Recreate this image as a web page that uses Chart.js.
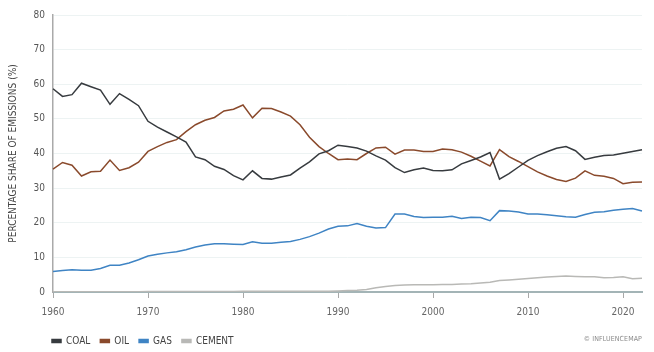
<!DOCTYPE html>
<html>
<head>
<meta charset="utf-8">
<script src="https://cdn.jsdelivr.net/npm/chart.js@4"></script>
<style>
  body { margin: 0; background: #fff; }
  #wrap { position: relative; width: 654px; height: 352px; }
  #credit {
    position: absolute; right: 12px; top: 335px;
    font: 7px "Liberation Sans Narrow", "DejaVu Sans Condensed", sans-serif;
    color: #888; letter-spacing: 0.1px;
  }
</style>
</head>
<body>
<div id="wrap">
  <canvas id="myChart"></canvas>
  <div id="credit">© INFLUENCEMAP</div>
</div>
<script>
const years = [
  1960, 1961, 1962, 1963, 1964, 1965, 1966, 1967, 1968, 1969,
  1970, 1971, 1972, 1973, 1974, 1975, 1976, 1977, 1978, 1979,
  1980, 1981, 1982, 1983, 1984, 1985, 1986, 1987, 1988, 1989,
  1990, 1991, 1992, 1993, 1994, 1995, 1996, 1997, 1998, 1999,
  2000, 2001, 2002, 2003, 2004, 2005, 2006, 2007, 2008, 2009,
  2010, 2011, 2012, 2013, 2014, 2015, 2016, 2017, 2018, 2019,
  2020, 2021, 2022
]
const coal = [
  58.7, 56.5, 57.0, 60.3, 59.3, 58.3, 54.2, 57.3, 55.6, 53.8,
  49.3, 47.6, 46.2, 44.8, 43.3, 39.0, 38.2, 36.3, 35.4, 33.6,
  32.4, 35.0, 32.8, 32.6, 33.2, 33.8, 35.8, 37.6, 39.9, 40.8,
  42.4, 42.0, 41.6, 40.7, 39.3, 38.1, 35.9, 34.5, 35.3, 35.8,
  35.1, 35.0, 35.3, 37.0, 38.0, 39.0, 40.3, 32.6, 34.2, 36.1,
  38.0, 39.4, 40.5, 41.5, 42.0, 40.8, 38.3, 38.9, 39.4, 39.6,
  40.1, 40.6, 41.1
]
const oil = [
  35.5, 37.4, 36.6, 33.5, 34.7, 34.9, 38.1, 35.1, 35.9, 37.5,
  40.6, 42.0, 43.2, 44.0, 46.3, 48.3, 49.6, 50.4, 52.3, 52.8,
  54.0, 50.3, 53.1, 53.0, 52.0, 50.8, 48.3, 44.7, 42.0, 40.0,
  38.2, 38.4, 38.2, 40.0, 41.6, 41.8, 39.8, 41.0, 41.0, 40.6,
  40.6, 41.3, 41.1, 40.4, 39.2, 37.8, 36.4, 41.1, 39.1, 37.7,
  36.2, 34.7, 33.5, 32.5, 31.9, 32.9, 35.0, 33.7, 33.4, 32.8,
  31.3, 31.7, 31.8
]
const gas = [
  5.9, 6.2, 6.4, 6.3, 6.3, 6.8, 7.7, 7.7, 8.4, 9.3,
  10.4, 10.9, 11.3, 11.6, 12.2, 13.0, 13.6, 13.9, 13.9, 13.8,
  13.7, 14.5, 14.1, 14.1, 14.4, 14.6, 15.2, 16.0, 17.0, 18.2,
  19.0, 19.1, 19.8, 19.0, 18.5, 18.6, 22.5, 22.5, 21.8, 21.5,
  21.6, 21.6, 21.9, 21.2, 21.6, 21.5, 20.6, 23.5, 23.4, 23.1,
  22.5, 22.5, 22.3, 22.0, 21.7, 21.6, 22.4, 23.0, 23.2, 23.6,
  23.9, 24.1, 23.4
]
const cement = [
  0.1, 0.1, 0.1, 0.1, 0.1, 0.1, 0.1, 0.1, 0.1, 0.1,
  0.15, 0.15, 0.15, 0.15, 0.15, 0.15, 0.15, 0.15, 0.15, 0.15,
  0.2, 0.2, 0.2, 0.2, 0.2, 0.2, 0.2, 0.2, 0.2, 0.2,
  0.3, 0.4, 0.5, 0.7, 1.2, 1.6, 1.9, 2.0, 2.1, 2.1,
  2.1, 2.2, 2.2, 2.3, 2.4, 2.6, 2.8, 3.3, 3.5, 3.7,
  3.9, 4.1, 4.3, 4.5, 4.6, 4.5, 4.4, 4.4, 4.1, 4.2,
  4.4, 3.8, 4.0
]
const yTicks = [0, 10, 20, 30, 40, 50, 60, 70, 80]

const FONT = '"Liberation Sans Narrow", "DejaVu Sans Condensed", sans-serif'

function makeLine(label, data, color){
    return {
        label: label,
        data: data,
        borderColor: color,
        backgroundColor: color,
        borderWidth: 1.5,
        pointRadius: 0,
        tension: 0
    }
}

// nudge the legend so it starts under the y axis like the original
const legendNudge = {
    id: 'legendNudge',
    afterLayout(chart){
        chart.legend.left = 42
        chart.legend.top += 8
        chart.legend.bottom += 8
    }
}

const ctx = document.getElementById('myChart').getContext('2d')
const myChart = new Chart(ctx, {
    type: 'line',
    data: {
        labels: years,
        datasets: [
            makeLine('COAL', coal, '#373b3f'),
            makeLine('OIL', oil, '#8a4a2c'),
            makeLine('GAS', gas, '#3f84c4'),
            makeLine('CEMENT', cement, '#b9b9b6')
        ]
    },
    options: {
        responsive: true,
        maintainAspectRatio: false,
        animation: false,
        layout: { padding: { top: 15, right: 12, bottom: 4, left: 0 } },
        scales: {
            x: {
                offset: false,
                afterFit: s => { s.height = 26 },
                grid: {
                    drawOnChartArea: false,
                    tickLength: 6,
                    tickColor: c => (years[c.index] % 10 === 0 ? '#a8a8a8' : 'transparent')
                },
                border: { color: '#a3b4b6', width: 2 },
                ticks: {
                    autoSkip: false,
                    maxRotation: 0,
                    padding: 8,
                    color: '#666',
                    font: { family: FONT, size: 10 },
                    callback: function(val, i){ return years[i] % 10 === 0 ? String(years[i]) : '' }
                }
            },
            y: {
                min: 0,
                max: 80,
                afterFit: s => { s.width = 53 },
                afterBuildTicks: s => { s.ticks = yTicks.map(v => ({ value: v })) },
                grid: { color: '#edf3f3', drawTicks: false },
                border: { color: '#aaa', width: 1.5 },
                ticks: {
                    padding: 8,
                    color: '#555',
                    font: { family: FONT, size: 10 }
                },
                title: {
                    display: true,
                    text: 'PERCENTAGE SHARE OF EMISSIONS (%)',
                    color: '#444',
                    padding: { top: 7, bottom: 0 },
                    font: { family: FONT, size: 10 }
                }
            }
        },
        plugins: {
            legend: {
                position: 'bottom',
                align: 'start',
                labels: {
                    boxWidth: 9,
                    boxHeight: 3,
                    padding: 10,
                    color: '#444',
                    font: { family: FONT, size: 10 }
                }
            },
            tooltip: { enabled: false }
        }
    },
    plugins: [legendNudge]
})
</script>
</body>
</html>
